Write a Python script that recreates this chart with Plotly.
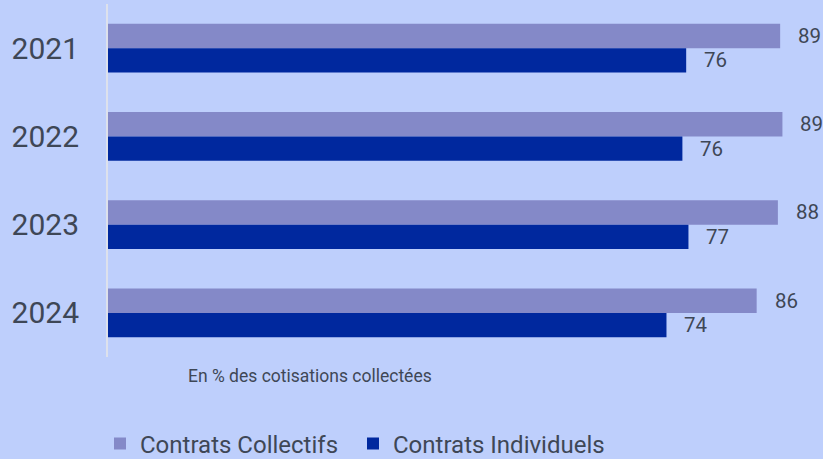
import plotly.graph_objects as go

years = ["2021", "2022", "2023", "2024"]
collectifs = [88.7, 89.0, 88.4, 85.6]
individuels = [76.3, 75.8, 76.6, 73.7]
series_names = ["Contrats Collectifs", "Contrats Individuels"]
axis_note = "En % des cotisations collectées"

BG = "#BECFFC"
C_COLL = "#8489C8"
C_IND = "#00289E"
TXT = "#3E4756"
FONT = "Roboto, Liberation Sans, Arial, sans-serif"

fig = go.Figure()
fig.add_trace(go.Bar(y=years, x=collectifs, orientation="h", name=series_names[0],
                     marker=dict(color=C_COLL, line=dict(width=0))))
fig.add_trace(go.Bar(y=years, x=individuels, orientation="h", name=series_names[1],
                     marker=dict(color=C_IND, line=dict(width=0))))

off = 0.139
annotations = []
for i, (c, d) in enumerate(zip(collectifs, individuels)):
    for val, dy in ((c, -off), (d, off)):
        annotations.append(dict(x=val, y=i + dy, xref="x", yref="y", text=f"{val:.0f}",
                                showarrow=False, xanchor="left", yanchor="middle", xshift=16,
                                font=dict(family=FONT, size=20.5, color=TXT)))
annotations.append(dict(x=(310 - 108) / 682, y=(357 - 376) / 353, xref="paper", yref="paper",
                        text=axis_note, showarrow=False, xanchor="center", yanchor="middle",
                        font=dict(family=FONT, size=17.5, color=TXT)))

fig.update_layout(
    width=823, height=459,
    paper_bgcolor=BG, plot_bgcolor=BG,
    margin=dict(l=108, r=33, t=4, b=102, autoexpand=False),
    barmode="group", bargap=0.445, bargroupgap=0,
    showlegend=True,
    legend=dict(orientation="h", x=(100 - 108) / 682, xref="paper", y=(357 - 444) / 353, yref="paper",
                yanchor="middle", xanchor="left", entrywidth=208, itemwidth=30,
                font=dict(family=FONT, size=24, color=TXT), bgcolor="rgba(0,0,0,0)"),
    annotations=annotations,
    font=dict(family=FONT, color=TXT),
)
fig.update_xaxes(range=[0, 90], showticklabels=False, showgrid=False, zeroline=False,
                 showline=False, fixedrange=True)
fig.update_yaxes(autorange="reversed", showgrid=False, zeroline=False, showline=True,
                 linecolor="#DDE1EC", linewidth=2, ticks="", ticklabelstandoff=21,
                 tickfont=dict(family=FONT, size=30, color=TXT))

fig.write_html("out.html", config={"displayModeBar": False},
               post_script="document.body.style.margin='0';")
